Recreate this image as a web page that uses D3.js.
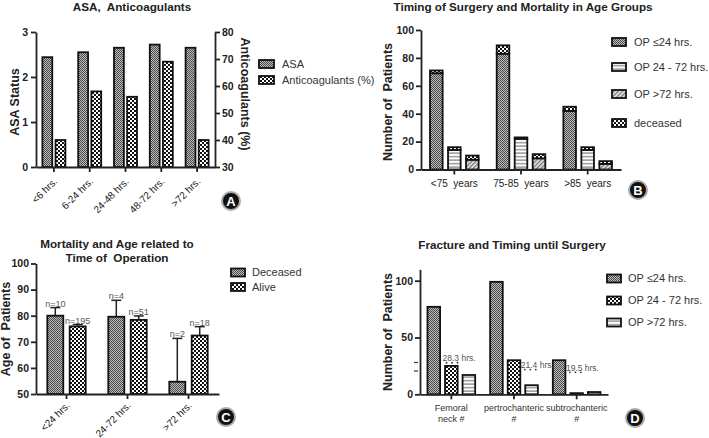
<!DOCTYPE html>
<html>
<head>
<meta charset="utf-8">
<script src="https://cdn.jsdelivr.net/npm/d3@7"></script>
<style>
body{margin:0;background:#fff;}
svg{font-family:"Liberation Sans", Arial, sans-serif;}
svg text{white-space:pre;}
.axis path,.axis line{stroke:#222;stroke-width:1.8;}
.axis text{font-size:10.5px;font-weight:bold;fill:#222;font-family:"Liberation Sans", Arial, sans-serif;}
.xlab text{font-weight:normal;font-size:10px;fill:#222;}
.ttl{font-weight:bold;font-size:11.7px;fill:#222;}
.ytl{font-weight:bold;font-size:12.5px;fill:#222;}
.leg{font-size:11px;fill:#333;}
</style>
</head>
<body>
<svg id="chart" width="709" height="438"></svg>
<script>
// panel A
var catsA = ["<6 hrs.", "6-24 hrs.", "24-48 hrs.", "48-72 hrs.", ">72 hrs."];
var asaValues = [2.44, 2.55, 2.65, 2.72, 2.65];
var anticoagValues = [40, 58, 56, 69, 40];
var ticksAsa = [0, 1, 2, 3];
var ticksAnti = [30, 40, 50, 60, 70, 80];

// panel B
var ageGroups = ["<75  years", "75-85  years", ">85  years"];
var seriesB = ["OP \u226424 hrs.", "OP 24 - 72 hrs.", "OP >72 hrs."];
var survivorsB = [[69, 14, 7], [83, 22, 8], [42, 14, 4]];
var deceasedB = [[2, 2, 3], [6, 1, 3], [3, 2, 2]];
var ticksB = [0, 20, 40, 60, 80, 100];

// panel C
var catsC = ["<24 hrs.", "24-72 hrs.", ">72 hrs."];
var deceasedAge = [80, 79.6, 54.7];
var deceasedErr = [3.1, 6.3, 16.6];
var aliveAge = [75.9, 78.4, 72.4];
var aliveErr = [0.7, 1.5, 3.4];
var deceasedN = ["n=10", "n=4", "n=2"];
var aliveN = ["n=195", "n=51", "n=18"];
var ticksC = [50, 60, 70, 80, 90, 100];

// panel D
var fractures = [["Femoral", "neck #"], ["pertrochanteric", "#"], ["subtrochanteric", "#"]];
var seriesD = ["OP \u226424 hrs.", "OP 24 - 72 hrs.", "OP >72 hrs."];
var op24 = [77, 99, 30];
var op2472 = [25, 30, 1];
var op72 = [17, 8, 2];
var meanTime = ["28.3 hrs.", "21.4 hrs.", "19.5 hrs."];
var meanTimeY = [28.9, 22.9, 20.5];
var ticksD = [0, 50, 100];

var svg = d3.select("#chart");
var defs = svg.append("defs");

// fill patterns
var p = defs.append("pattern").attr("id", "dense").attr("patternUnits", "userSpaceOnUse").attr("width", 2).attr("height", 2);
p.append("rect").attr("width", 2).attr("height", 2).attr("fill", "#bdbdbd");
p.append("rect").attr("width", 1).attr("height", 1).attr("fill", "#4a4a4a");
p.append("rect").attr("x", 1).attr("y", 1).attr("width", 1).attr("height", 1).attr("fill", "#4a4a4a");

p = defs.append("pattern").attr("id", "checker").attr("patternUnits", "userSpaceOnUse").attr("width", 4).attr("height", 4);
p.append("rect").attr("width", 4).attr("height", 4).attr("fill", "#fff");
p.append("rect").attr("width", 2).attr("height", 2).attr("fill", "#111");
p.append("rect").attr("x", 2).attr("y", 2).attr("width", 2).attr("height", 2).attr("fill", "#111");

p = defs.append("pattern").attr("id", "horiz").attr("patternUnits", "userSpaceOnUse").attr("width", 4).attr("height", 3.5);
p.append("rect").attr("width", 4).attr("height", 3.5).attr("fill", "#fff");
p.append("rect").attr("y", 2).attr("width", 4).attr("height", 1.3).attr("fill", "#888");

p = defs.append("pattern").attr("id", "diag").attr("patternUnits", "userSpaceOnUse").attr("width", 3).attr("height", 3)
  .attr("patternTransform", "rotate(45)");
p.append("rect").attr("width", 3).attr("height", 3).attr("fill", "#eee");
p.append("rect").attr("width", 1.4).attr("height", 3).attr("fill", "#777");

function barStyle(sel) {
  sel.attr("stroke", "#111").attr("stroke-width", 1.8);
}

function legend(items, x, ys, sw, sh, gap) {
  items.forEach(function(it, i) {
    svg.append("rect").attr("x", x).attr("y", ys[i] - sh / 2).attr("width", sw).attr("height", sh)
      .attr("fill", "url(#" + it[1] + ")").call(barStyle);
    svg.append("text").attr("class", "leg").attr("x", x + sw + gap).attr("y", ys[i]).attr("dy", "0.35em").text(it[0]);
  });
}

function badge(x, y, letter) {
  svg.append("circle").attr("cx", x).attr("cy", y).attr("r", 9).attr("fill", "#111")
    .attr("stroke", "#aaa").attr("stroke-width", 2);
  svg.append("text").attr("x", x).attr("y", y).attr("dy", "0.36em").attr("text-anchor", "middle")
    .style("font-size", "13px").style("font-weight", "bold").attr("fill", "#fff").text(letter);
}

function rotLabels(g, dx, dy) {
  g.attr("class", "axis xlab").selectAll("text")
    .attr("y", 0).attr("x", 0).attr("dy", null)
    .style("text-anchor", "end")
    .attr("transform", "translate(" + dx + "," + dy + ") rotate(-45)");
}

// ---------- A ----------
var xA = d3.scaleBand().domain(catsA).range([36, 215]);
var subA = d3.scaleBand().domain([0, 1]).range([-11.5, 11.5]).paddingInner(0.25);
var yL = d3.scaleLinear().domain([0, 3]).range([167, 32]);
var yR = d3.scaleLinear().domain([30, 80]).range([167, 32]);

svg.selectAll(".asa").data(asaValues).enter().append("rect")
  .attr("x", function(d, i) { return xA(catsA[i]) + xA.bandwidth() / 2 + subA(0); })
  .attr("width", subA.bandwidth())
  .attr("y", function(d) { return yL(d); })
  .attr("height", function(d) { return yL(0) - yL(d); })
  .attr("fill", "url(#dense)").call(barStyle);
svg.selectAll(".anti").data(anticoagValues).enter().append("rect")
  .attr("x", function(d, i) { return xA(catsA[i]) + xA.bandwidth() / 2 + subA(1); })
  .attr("width", subA.bandwidth())
  .attr("y", function(d) { return yR(d); })
  .attr("height", function(d) { return yR(30) - yR(d); })
  .attr("fill", "url(#checker)").call(barStyle);

svg.append("g").attr("class", "axis").attr("transform", "translate(36,0)")
  .call(d3.axisLeft(yL).tickValues(ticksAsa).tickFormat(d3.format("d")).tickSize(5).tickPadding(3).tickSizeOuter(0));
svg.append("g").attr("class", "axis").attr("transform", "translate(215,0)")
  .call(d3.axisRight(yR).tickValues(ticksAnti).tickSize(5).tickPadding(2).tickSizeOuter(0));
svg.append("g").attr("transform", "translate(0,167)")
  .call(d3.axisBottom(xA).tickSize(5).tickSizeOuter(0))
  .call(function(g) { rotLabels(g, 4, 15); });

svg.append("text").attr("class", "ttl").attr("x", 132).attr("y", 11).attr("text-anchor", "middle").text("ASA,  Anticoagulants");
svg.append("text").attr("class", "ytl").attr("transform", "translate(15,102) rotate(-90)")
  .attr("dy", "0.35em").attr("text-anchor", "middle").text("ASA Status");
svg.append("text").attr("class", "ytl").attr("transform", "translate(245,94) rotate(90)")
  .attr("dy", "0.35em").attr("text-anchor", "middle").text("Anticoagulants (%)");
legend([["ASA", "dense"], ["Anticoagulants (%)", "checker"]], 259, [64, 80], 15, 8, 8);
badge(231, 201, "A");

// ---------- B ----------
var xB = d3.scaleBand().domain(ageGroups).range([421, 621]);
var subB = d3.scaleBand().domain([0, 1, 2]).range([-24.3, 24.3]).paddingInner(0.3);
var yB = d3.scaleLinear().domain([0, 100]).range([169.5, 30]);
var fillB = ["dense", "horiz", "diag"];

ageGroups.forEach(function(grp, gi) {
  var cx = xB(grp) + xB.bandwidth() / 2;
  survivorsB[gi].forEach(function(v, si) {
    var dec = deceasedB[gi][si];
    svg.append("rect").attr("x", cx + subB(si)).attr("width", subB.bandwidth())
      .attr("y", yB(v)).attr("height", yB(0) - yB(v))
      .attr("fill", "url(#" + fillB[si] + ")").call(barStyle);
    svg.append("rect").attr("x", cx + subB(si)).attr("width", subB.bandwidth())
      .attr("y", yB(v + dec)).attr("height", yB(v) - yB(v + dec))
      .attr("fill", "url(#checker)").call(barStyle);
  });
});

svg.append("g").attr("class", "axis").attr("transform", "translate(421,0)")
  .call(d3.axisLeft(yB).tickValues(ticksB).tickSize(5).tickPadding(2).tickSizeOuter(0));
svg.append("g").attr("class", "axis xlab").attr("transform", "translate(0,169.5)")
  .call(d3.axisBottom(xB).tickSize(5).tickSizeOuter(0))
  .selectAll("text").attr("y", 10.5);

svg.append("text").attr("class", "ttl").attr("x", 523).attr("y", 11).attr("text-anchor", "middle")
  .text("Timing of Surgery and Mortality in Age Groups");
svg.append("text").attr("class", "ytl").attr("transform", "translate(388,102) rotate(-90)")
  .attr("dy", "0.35em").attr("text-anchor", "middle").text("Number of  Patients");
legend([[seriesB[0], "dense"], [seriesB[1], "horiz"], [seriesB[2], "diag"], ["deceased", "checker"]],
  612, [42, 67, 94, 123], 14, 8, 8);
badge(638, 190, "B");

// ---------- C ----------
var xC = d3.scaleBand().domain(catsC).range([36, 219]);
var subC = d3.scaleBand().domain([0, 1]).range([-19.2, 19.2]).paddingInner(0.286);
var yC = d3.scaleLinear().domain([50, 100]).range([394, 263.5]);
var seriesC = [
  {vals: deceasedAge, err: deceasedErr, n: deceasedN, fill: "dense"},
  {vals: aliveAge, err: aliveErr, n: aliveN, fill: "checker"}
];

seriesC.forEach(function(s, si) {
  s.vals.forEach(function(v, i) {
    var bx = xC(catsC[i]) + xC.bandwidth() / 2 + subC(si);
    var mx = bx + subC.bandwidth() / 2;
    var top = yC(v + s.err[i]);
    svg.append("line").attr("x1", mx).attr("x2", mx).attr("y1", yC(v)).attr("y2", top)
      .attr("stroke", "#222").attr("stroke-width", 1.5);
    svg.append("line").attr("x1", mx - 5).attr("x2", mx + 5).attr("y1", top).attr("y2", top)
      .attr("stroke", "#222").attr("stroke-width", 1.5);
    svg.append("rect").attr("x", bx).attr("width", subC.bandwidth())
      .attr("y", yC(v)).attr("height", yC(50) - yC(v))
      .attr("fill", "url(#" + s.fill + ")").call(barStyle);
    svg.append("text").attr("x", mx).attr("y", top - 1).attr("text-anchor", "middle")
      .style("font-size", "9px").attr("fill", "#555").text(s.n[i]);
  });
});

svg.append("g").attr("class", "axis").attr("transform", "translate(36,0)")
  .call(d3.axisLeft(yC).tickValues(ticksC).tickSize(5).tickPadding(2).tickSizeOuter(0));
svg.append("g").attr("transform", "translate(0,394)")
  .call(d3.axisBottom(xC).tickSize(5).tickSizeOuter(0))
  .call(function(g) { rotLabels(g, 4, 12); });

svg.append("text").attr("class", "ttl").attr("x", 117).attr("y", 248).attr("text-anchor", "middle").text("Mortality and Age related to");
svg.append("text").attr("class", "ttl").attr("x", 117).attr("y", 262).attr("text-anchor", "middle").text("Time of  Operation");
svg.append("text").attr("class", "ytl").attr("transform", "translate(6,329) rotate(-90)")
  .attr("dy", "0.35em").attr("text-anchor", "middle").text("Age of  Patients");
legend([["Deceased", "dense"], ["Alive", "checker"]], 231, [272.5, 287], 14, 8, 7);
badge(226, 417, "C");

// ---------- D ----------
var xD = d3.scaleBand().domain([0, 1, 2]).range([420, 608]);
var subD = d3.scaleBand().domain([0, 1, 2]).range([-23.85, 23.85]).paddingInner(0.282);
var yD = d3.scaleLinear().domain([0, 110]).range([394.3, 394.3 - 110 * 1.136]);
var seriesValsD = [op24, op2472, op72];
var fillD = ["dense", "checker", "horiz"];

seriesValsD.forEach(function(vals, si) {
  svg.selectAll(".d" + si).data(vals).enter().append("rect")
    .attr("x", function(d, i) { return xD(i) + xD.bandwidth() / 2 + subD(si); })
    .attr("width", subD.bandwidth())
    .attr("y", function(d) { return yD(d); })
    .attr("height", function(d) { return yD(0) - yD(d); })
    .attr("fill", "url(#" + fillD[si] + ")").call(barStyle);
});

// mean time annotations: over the 24-72 bar, or right of the bar for the others
meanTime.forEach(function(t, i) {
  var cx = xD(i) + xD.bandwidth() / 2;
  var start = i === 0 ? cx + subD(1) : (i === 1 ? cx + subD(1) + subD.bandwidth() + 3 : cx + subD(0) + subD.bandwidth() + 3);
  var by = yD(meanTimeY[i]);
  svg.append("text").attr("x", start - 2.5).attr("y", by).style("font-size", "8.5px").attr("fill", "#555").text(t);
  [0, 1, 2].forEach(function(k) {
    svg.append("circle").attr("cx", start + 1.5 + k * 5.5).attr("cy", by + 1.3).attr("r", 0.9).attr("fill", "#333");
  });
});

svg.append("g").attr("class", "axis").attr("transform", "translate(420,0)")
  .call(d3.axisLeft(yD).tickValues(ticksD).tickSize(5).tickPadding(2).tickSizeOuter(0));
// small break marks on the axis
[20.5, 28].forEach(function(v) {
  svg.append("line").attr("x1", 414).attr("x2", 418).attr("y1", yD(v)).attr("y2", yD(v))
    .attr("stroke", "#333").attr("stroke-width", 1.2);
});
svg.append("g").attr("class", "axis xlab").attr("transform", "translate(0,394.3)")
  .call(d3.axisBottom(xD).tickSize(5).tickSizeOuter(0).tickFormat(""));
fractures.forEach(function(lines, i) {
  var cx = xD(i) + xD.bandwidth() / 2;
  lines.forEach(function(l, k) {
    svg.append("text").attr("x", cx).attr("y", 411 + k * 10.5).attr("text-anchor", "middle")
      .style("font-size", "9px").attr("fill", "#333").text(l);
  });
});

svg.append("text").attr("class", "ttl").attr("x", 512).attr("y", 249).attr("text-anchor", "middle")
  .text("Fracture and Timing until Surgery");
svg.append("text").attr("class", "ytl").attr("transform", "translate(388,332) rotate(-90)")
  .attr("dy", "0.35em").attr("text-anchor", "middle").text("Number of  Patients");
legend([[seriesD[0], "dense"], [seriesD[1], "checker"], [seriesD[2], "horiz"]], 607, [278.5, 300.5, 322.5], 14, 8, 7);
badge(635, 418, "D");
</script>
</body>
</html>
